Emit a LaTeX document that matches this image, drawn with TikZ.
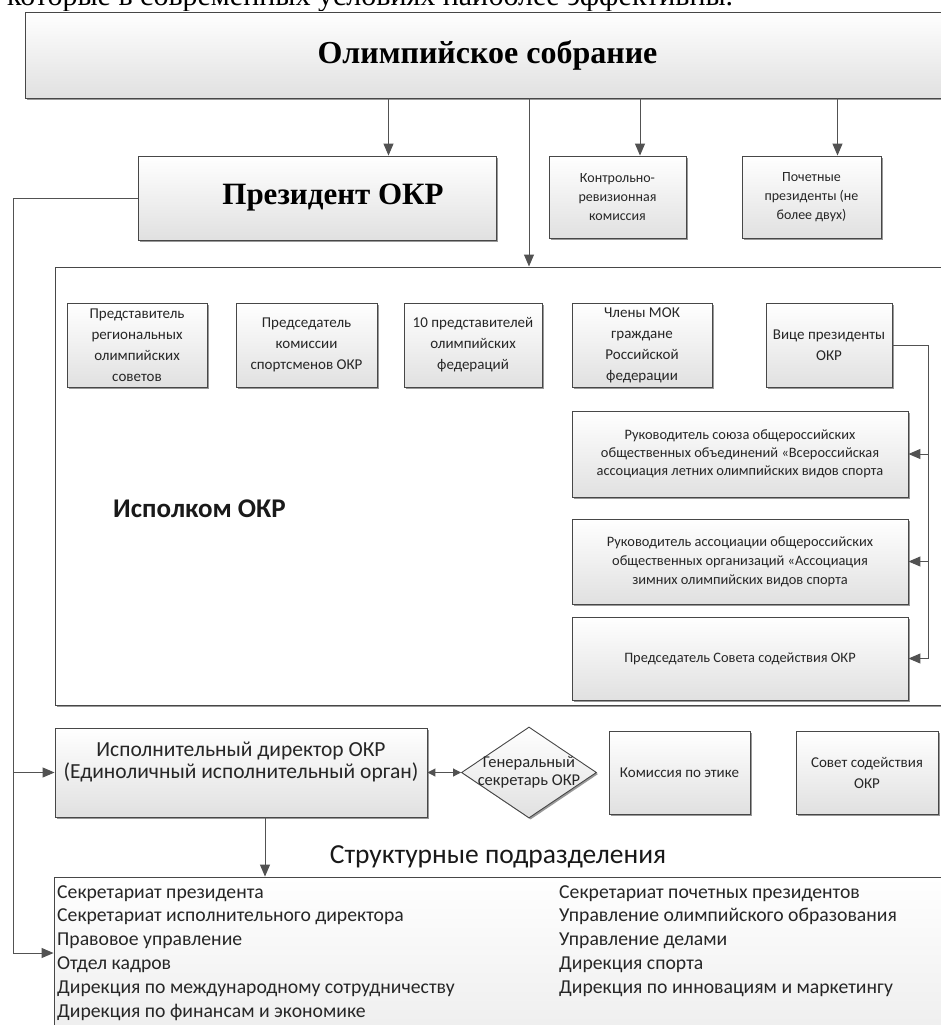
\documentclass[tikz,border=0pt]{standalone}
\usepackage{fontspec}
\setmainfont{Liberation Serif}
\newfontfamily\calfont{Carlito}
\usetikzlibrary{shapes.geometric,shadows,arrows.meta,calc}
\begin{document}
\begin{tikzpicture}[x=1pt,y=-1pt,
  shad/.style={drop shadow={shadow xshift=1.6pt, shadow yshift=-1.6pt, opacity=0.4, fill=black}},
  box/.style={rectangle, draw=black!72, line width=0.9pt, top color=white, bottom color=black!12, shad,
              inner sep=0pt, align=center, text=black!85, font=\calfont\fontsize{15}{21}\selectfont},
  txt/.style={inner sep=0pt, align=center, text=black!85},
  link/.style={draw=black!68, line width=1pt},
  arr/.style={link, -{Triangle[length=12pt,width=10pt]}},
  darr/.style={link, {Triangle[length=8pt,width=8pt]}-{Triangle[length=8pt,width=8pt]}},
  listitem/.style={anchor=base west, inner sep=0pt, text=black!85, font=\calfont\fontsize{19.7}{23}\selectfont}]

\useasboundingbox (0,0) rectangle (940,1025);
\fill[white] (0,0) rectangle (940,1025);

% cropped line of running text at the top
\node[anchor=base west, inner sep=0pt, font=\fontsize{30}{34}\selectfont] (intro) at (7,6)
  {которые в современных условиях наиболее эффективны.};

% top level
\node[box, minimum width=925pt, minimum height=86pt, text=black, font=\bfseries\fontsize{32}{36}\selectfont]
  (assembly) at (487.5,55) {Олимпийское собрание};
\node[box, minimum width=358pt, minimum height=84pt, text=black, font=\bfseries\fontsize{31}{34}\selectfont]
  (president) at (317,198) {\hspace*{32pt}Президент ОКР};
\node[box, minimum width=137pt, minimum height=82pt, font=\calfont\fontsize{14}{19}\selectfont]
  (kontrol) at (617.5,197) {Контрольно-\\ревизионная\\комиссия};
\node[box, minimum width=139pt, minimum height=82pt, font=\calfont\fontsize{14}{19}\selectfont]
  (pochet) at (811.5,197) {Почетные\\президенты (не\\более двух)};

% executive board frame
\node[rectangle, draw=black!72, line width=1pt, fill=white, shad, minimum width=895pt, minimum height=438pt, inner sep=0pt]
  (ispolkom) at (502.5,486) {};
\node[anchor=base west, inner sep=0pt, text=black!90, font=\calfont\bfseries\fontsize{27}{30}\selectfont]
  (isplabel) at (113,517) {Исполком ОКР};

\node[box, minimum width=140pt, minimum height=84pt] (m1) at (137,345) {Представитель\\региональных\\олимпийских\\советов};
\node[box, minimum width=141pt, minimum height=84pt] (m2) at (306.5,345) {Председатель\\комиссии\\спортсменов ОКР};
\node[box, minimum width=138pt, minimum height=84pt] (m3) at (473,345) {10 представителей\\олимпийских\\федераций};
\node[box, minimum width=140pt, minimum height=84pt] (m4) at (642,345) {Члены МОК\\граждане\\Российской\\федерации};
\node[box, minimum width=126pt, minimum height=84pt] (vice) at (829,345) {Вице президенты\\ОКР};

\node[box, minimum width=336pt, minimum height=86pt, font=\calfont\fontsize{14.4}{18}\selectfont] (b1) at (740,454)
  {Руководитель союза общероссийских\\общественных объединений «Всероссийская\\ассоциация летних олимпийских видов спорта};
\node[box, minimum width=336pt, minimum height=85pt, font=\calfont\fontsize{14.4}{19}\selectfont] (b2) at (740,561.5)
  {Руководитель ассоциации общероссийских\\общественных организаций «Ассоциация\\зимних олимпийских видов спорта};
\node[box, minimum width=336pt, minimum height=83pt, font=\calfont\fontsize{14.4}{19}\selectfont] (b3) at (740,658.5)
  {Председатель Совета содействия ОКР};

% executive director row
\node[box, minimum width=372pt, minimum height=89pt] (director) at (241,772.5) {};
\node[txt, font=\calfont\fontsize{21.5}{22}\selectfont] (dirtext) at (241,762)
  {Исполнительный директор ОКР\\(Единоличный исполнительный орган)};
\node[diamond, draw=black!72, line width=0.9pt, top color=white, bottom color=black!12, shad,
      minimum width=135pt, minimum height=91pt, inner sep=0pt] (secr) at (529,772.5) {};
\node[txt, font=\calfont\fontsize{16.5}{18}\selectfont] (secrtext) at (529,772)
  {Генеральный\\секретарь ОКР};
\node[box, minimum width=141pt, minimum height=83pt] (ethics) at (679.5,772.5) {Комиссия по этике};
\node[box, minimum width=142pt, minimum height=83pt] (sovet) at (867,772.5) {Совет содействия\\ОКР};

% structural units
\node[anchor=base, inner sep=0pt, text=black!90, font=\calfont\fontsize{27.5}{30}\selectfont]
  (structlabel) at (498,863) {Структурные подразделения};
\node[box, minimum width=896pt, minimum height=163pt, bottom color=black!7] (struct) at (502,958.5) {};

\foreach \t [count=\i] in {Секретариат президента, Секретариат исполнительного директора, Правовое управление,
    Отдел кадров, Дирекция по международному сотрудничеству, Дирекция по финансам и экономике}
  \node[listitem] (sl\i) at (57,{898+23.8*(\i-1)}) {\t};
\foreach \t [count=\i] in {Секретариат почетных президентов, Управление олимпийского образования,
    Управление делами, Дирекция спорта, Дирекция по инновациям и маркетингу}
  \node[listitem] (sr\i) at (559,{898+23.8*(\i-1)}) {\t};

% connectors from the assembly
\coordinate (xp) at (388.5,0);
\coordinate (xi) at (529,0);
\coordinate (xk) at (640,0);
\coordinate (xh) at (837.5,0);
\draw[arr] (xp |- assembly.south) -- (xp |- president.north);
\draw[arr] (xi |- assembly.south) -- (xi |- ispolkom.north);
\draw[arr] (xk |- assembly.south) -- (xk |- kontrol.north);
\draw[arr] (xh |- assembly.south) -- (xh |- pochet.north);

% vice presidents bus
\coordinate (vbus) at (928,658.5);
\draw[link] (vice.east) -| (vbus);
\draw[arr] (vbus |- b1.east) -- (b1.east);
\draw[arr] (vbus |- b2.east) -- (b2.east);
\draw[arr] (vbus) -- (b3.east);

% president bus on the left
\coordinate (lbus) at (13,953);
\draw[link] (president.west) -| (lbus);
\draw[arr] (lbus |- director.west) -- (director.west);
\draw[arr] (lbus) -- (lbus -| struct.west);

% director links
\draw[darr] (director.east) -- (secr.west);
\coordinate (xs) at (265,0);
\draw[arr] (xs |- director.south) -- (xs |- struct.north);
\end{tikzpicture}
\end{document}
